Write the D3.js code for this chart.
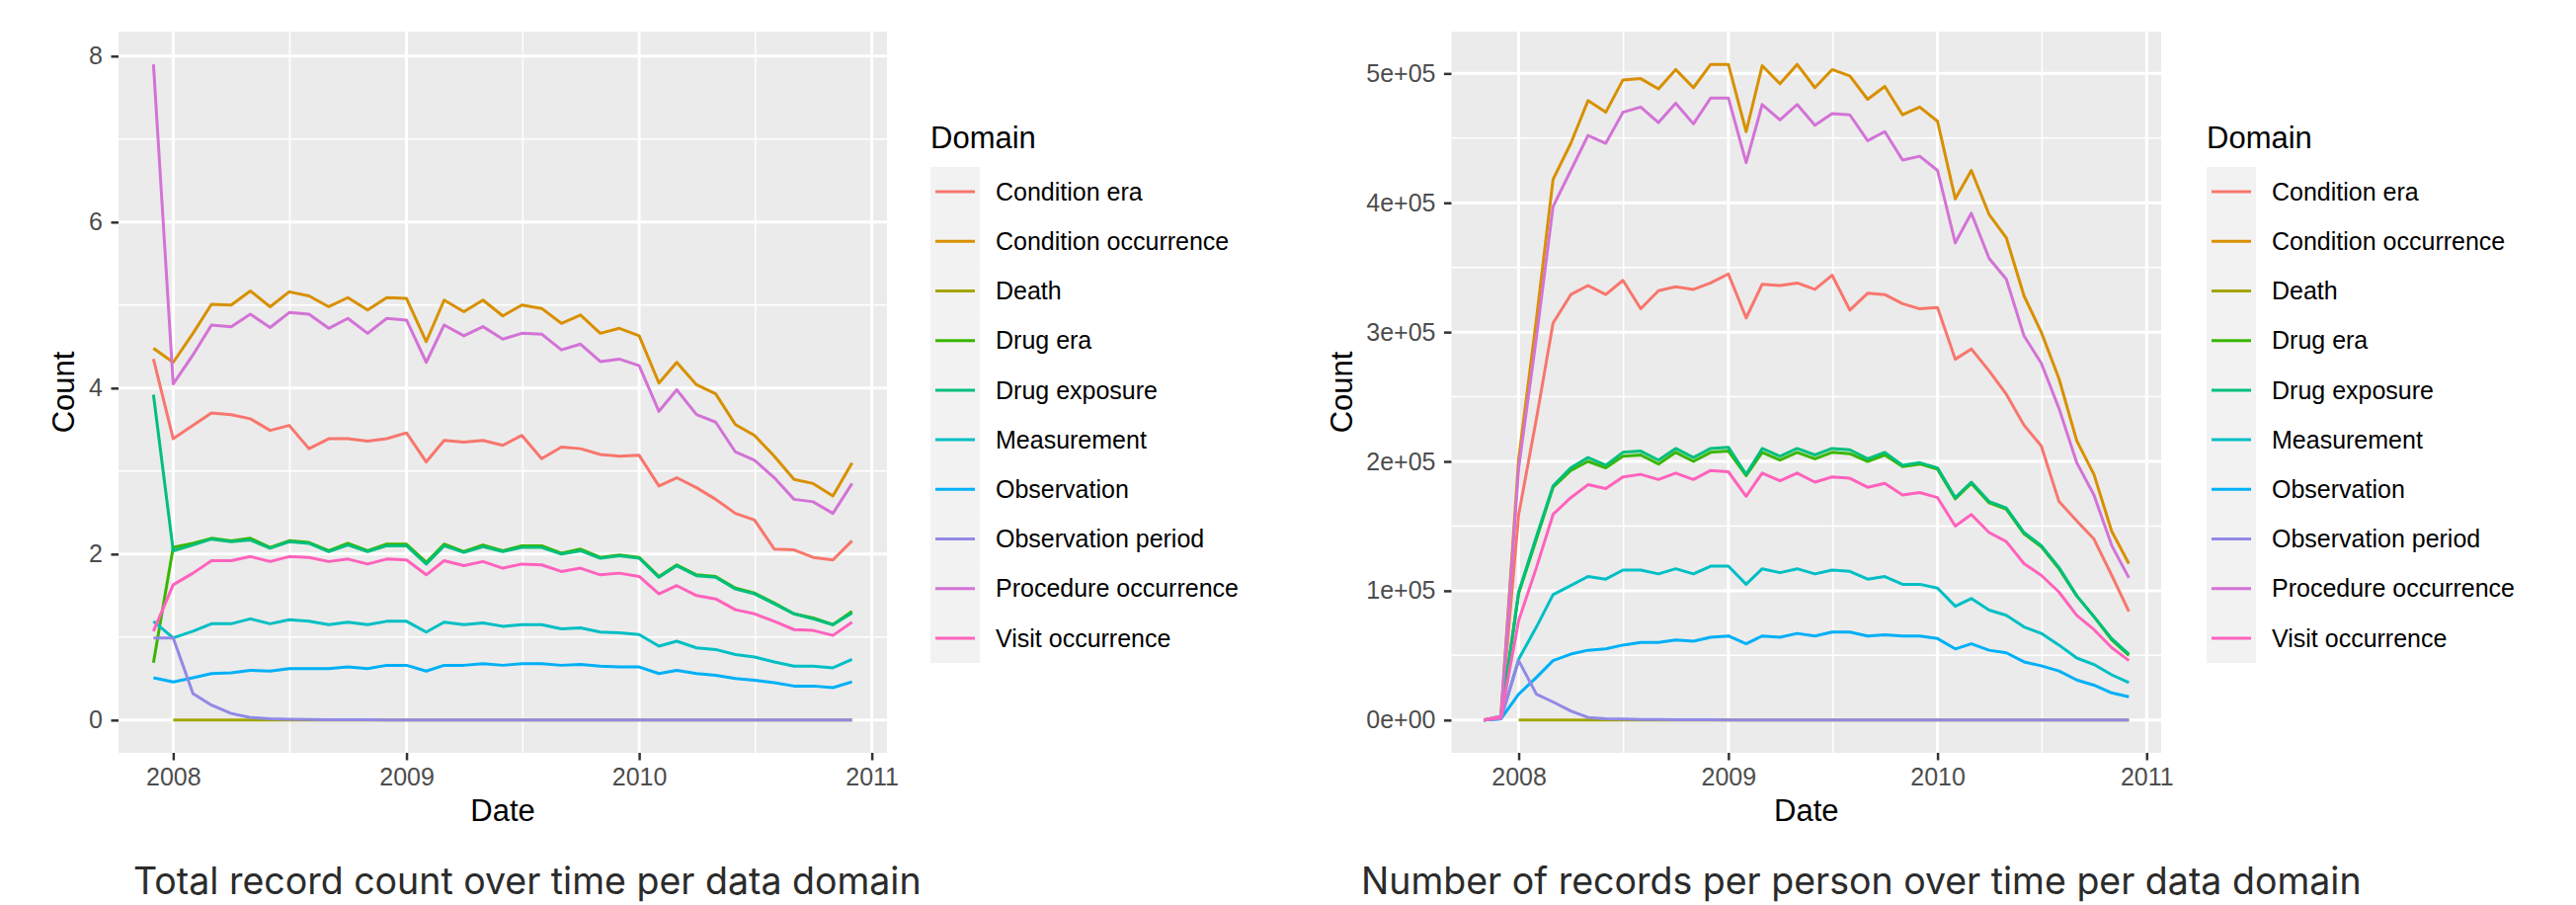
<!DOCTYPE html>
<html>
<head>
<meta charset="utf-8">
<script src="https://cdn.jsdelivr.net/npm/d3@7"></script>
<style>
  body { margin: 0; background: #fff; }
  svg { display: block; }
</style>
</head>
<body>
<svg id="chart" width="2608" height="916"></svg>
<script>
// domains, in legend order
const domains = [
  'Condition era', 'Condition occurrence', 'Death', 'Drug era', 'Drug exposure',
  'Measurement', 'Observation', 'Observation period', 'Procedure occurrence', 'Visit occurrence'
]
const colours = ['#F8766D', '#D89000', '#A3A500', '#39B600', '#00BF7D',
  '#00BFC4', '#00B0F6', '#9189E6', '#D373D6', '#FF62BC']

// left chart: monthly, Dec 2007 .. Dec 2010
const monthsLeft = d3.timeMonths(new Date(2007, 11, 1), new Date(2011, 0, 1))
const leftConditionEra = [4.35, 3.39, 3.55, 3.70, 3.68, 3.63, 3.49, 3.55, 3.27, 3.39, 3.39, 3.36, 3.39, 3.46, 3.11, 3.37, 3.35, 3.37, 3.31, 3.43, 3.15, 3.29, 3.27, 3.20, 3.18, 3.19, 2.82, 2.92, 2.80, 2.66, 2.49, 2.41, 2.06, 2.05, 1.96, 1.93, 2.16]
const leftConditionOcc = [4.48, 4.31, 4.66, 5.01, 5.00, 5.17, 4.98, 5.16, 5.11, 4.98, 5.09, 4.94, 5.09, 5.08, 4.56, 5.06, 4.92, 5.06, 4.87, 5.00, 4.96, 4.78, 4.88, 4.66, 4.72, 4.63, 4.06, 4.31, 4.04, 3.93, 3.56, 3.43, 3.18, 2.90, 2.85, 2.70, 3.10]
const leftDeath = [null, 0, 0, 0, 0, 0, 0, 0, 0, 0, 0, 0, 0, 0, 0, 0, 0, 0, 0, 0, 0, 0, 0, 0, 0, 0, 0, 0, 0, 0, 0, 0, 0, 0, 0, 0, 0]
const leftDrugEra = [0.69, 2.08, 2.13, 2.19, 2.16, 2.19, 2.08, 2.16, 2.14, 2.04, 2.13, 2.04, 2.12, 2.12, 1.90, 2.12, 2.03, 2.11, 2.04, 2.10, 2.10, 2.01, 2.06, 1.96, 1.99, 1.96, 1.73, 1.87, 1.75, 1.73, 1.59, 1.53, 1.41, 1.28, 1.23, 1.15, 1.31]
const leftDrugExposure = [3.92, 2.04, 2.11, 2.18, 2.15, 2.17, 2.07, 2.15, 2.13, 2.03, 2.11, 2.03, 2.10, 2.10, 1.88, 2.10, 2.02, 2.09, 2.03, 2.08, 2.08, 2.00, 2.04, 1.95, 1.98, 1.95, 1.72, 1.86, 1.74, 1.72, 1.58, 1.52, 1.40, 1.28, 1.22, 1.15, 1.29]
const leftMeasurement = [1.19, 0.99, 1.07, 1.16, 1.16, 1.22, 1.16, 1.21, 1.19, 1.15, 1.18, 1.15, 1.19, 1.19, 1.06, 1.18, 1.15, 1.17, 1.13, 1.15, 1.15, 1.10, 1.11, 1.06, 1.05, 1.03, 0.89, 0.95, 0.87, 0.85, 0.79, 0.76, 0.70, 0.65, 0.65, 0.63, 0.73]
const leftObservation = [0.51, 0.46, 0.51, 0.56, 0.57, 0.60, 0.59, 0.62, 0.62, 0.62, 0.64, 0.62, 0.66, 0.66, 0.59, 0.66, 0.66, 0.68, 0.66, 0.68, 0.68, 0.66, 0.67, 0.65, 0.64, 0.64, 0.56, 0.60, 0.56, 0.54, 0.50, 0.48, 0.45, 0.41, 0.41, 0.39, 0.46]
const leftObsPeriod = [0.99, 0.99, 0.32, 0.18, 0.08, 0.03, 0.015, 0.01, 0.008, 0.005, 0.004, 0.003, 0.002, 0.002, 0.001, 0.001, 0, 0, 0, 0, 0, 0, 0, 0, 0, 0, 0, 0, 0, 0, 0, 0, 0, 0, 0, 0, 0]
const leftProcedureOcc = [7.90, 4.05, 4.40, 4.76, 4.74, 4.89, 4.73, 4.91, 4.89, 4.72, 4.84, 4.66, 4.84, 4.82, 4.31, 4.76, 4.63, 4.74, 4.59, 4.66, 4.65, 4.46, 4.53, 4.32, 4.35, 4.27, 3.72, 3.98, 3.68, 3.59, 3.23, 3.13, 2.92, 2.66, 2.63, 2.49, 2.85]
const leftVisitOcc = [1.07, 1.63, 1.77, 1.92, 1.92, 1.97, 1.91, 1.97, 1.96, 1.91, 1.94, 1.88, 1.94, 1.93, 1.75, 1.92, 1.86, 1.91, 1.83, 1.88, 1.87, 1.79, 1.83, 1.75, 1.77, 1.73, 1.52, 1.62, 1.50, 1.46, 1.33, 1.28, 1.19, 1.09, 1.08, 1.02, 1.18]

// right chart: monthly, Nov 2007 .. Dec 2010
const monthsRight = d3.timeMonths(new Date(2007, 10, 1), new Date(2011, 0, 1))
const rightConditionEra = [0, 2000, 159000, 233000, 307000, 329000, 336000, 329000, 340000, 318000, 332000, 335000, 333000, 338000, 345000, 311000, 337000, 336000, 338000, 333000, 344000, 317000, 330000, 329000, 322000, 318000, 319000, 279000, 287000, 270000, 252000, 228000, 212000, 169000, 154000, 140000, 112000, 84000]
const rightConditionOcc = [0, 3000, 202000, 310000, 418000, 446000, 479000, 470000, 495000, 496000, 488000, 503000, 489000, 507000, 507000, 455000, 506000, 492000, 507000, 489000, 503000, 498000, 480000, 490000, 468000, 474000, 463000, 403000, 425000, 391000, 373000, 328000, 300000, 264000, 216000, 190000, 146000, 121000]
const rightDeath = [null, null, 0, 0, 0, 0, 0, 0, 0, 0, 0, 0, 0, 0, 0, 0, 0, 0, 0, 0, 0, 0, 0, 0, 0, 0, 0, 0, 0, 0, 0, 0, 0, 0, 0, 0, 0, 0]
const rightDrugEra = [0, 2000, 98000, 140000, 180000, 193000, 200000, 195000, 204000, 205000, 198000, 207000, 200000, 207000, 208000, 189000, 207000, 201000, 207000, 202000, 207000, 206000, 200000, 205000, 196000, 198000, 194000, 171000, 183000, 168000, 163000, 144000, 134000, 117000, 96000, 80000, 62000, 50000]
const rightDrugExposure = [0, 2000, 99000, 142000, 181000, 195000, 203000, 197000, 207000, 208000, 201000, 210000, 203000, 210000, 211000, 190000, 210000, 204000, 210000, 205000, 210000, 209000, 202000, 207000, 197000, 199000, 195000, 172000, 184000, 169000, 164000, 145000, 135000, 118000, 96000, 80000, 63000, 51000]
const rightMeasurement = [0, 1000, 47000, 72000, 97000, 104000, 111000, 109000, 116000, 116000, 113000, 117000, 113000, 119000, 119000, 105000, 117000, 114000, 117000, 113000, 116000, 115000, 109000, 111000, 105000, 105000, 102000, 88000, 94000, 85000, 81000, 72000, 67000, 58000, 48000, 43000, 35000, 29000]
const rightObservation = [0, 1000, 20000, 33000, 46000, 51000, 54000, 55000, 58000, 60000, 60000, 62000, 61000, 64000, 65000, 59000, 65000, 64000, 67000, 65000, 68000, 68000, 65000, 66000, 65000, 65000, 63000, 55000, 59000, 54000, 52000, 45000, 42000, 38000, 31000, 27000, 21000, 18000]
const rightObsPeriod = [0, 1000, 46000, 20000, 14000, 7000, 2000, 1000, 800, 500, 400, 300, 200, 150, 100, 100, 0, 0, 0, 0, 0, 0, 0, 0, 0, 0, 0, 0, 0, 0, 0, 0, 0, 0, 0, 0, 0, 0]
const rightProcedureOcc = [0, 3000, 195000, 296000, 397000, 425000, 452000, 446000, 470000, 474000, 462000, 477000, 461000, 481000, 481000, 431000, 476000, 464000, 476000, 460000, 469000, 468000, 448000, 455000, 433000, 436000, 425000, 369000, 392000, 357000, 341000, 297000, 276000, 241000, 199000, 174000, 135000, 110000]
const rightVisitOcc = [0, 2000, 77000, 118000, 159000, 172000, 182000, 179000, 188000, 190000, 186000, 191000, 186000, 193000, 192000, 173000, 191000, 185000, 191000, 184000, 188000, 187000, 180000, 183000, 174000, 176000, 172000, 150000, 159000, 145000, 138000, 121000, 112000, 99000, 81000, 70000, 56000, 46000]

const leftSeries = [leftConditionEra, leftConditionOcc, leftDeath, leftDrugEra, leftDrugExposure,
  leftMeasurement, leftObservation, leftObsPeriod, leftProcedureOcc, leftVisitOcc]
const rightSeries = [rightConditionEra, rightConditionOcc, rightDeath, rightDrugEra, rightDrugExposure,
  rightMeasurement, rightObservation, rightObsPeriod, rightProcedureOcc, rightVisitOcc]

const yearTicks = [2008, 2009, 2010, 2011].map(y => new Date(y, 0, 1))

const sci = v => {
  if (v === 0) return '0e+00'
  const e = Math.floor(Math.log10(v))
  return Math.round(v / Math.pow(10, e)) + 'e+' + String(e).padStart(2, '0')
}

const svg = d3.select('#chart')
const font = 'Liberation Sans, Arial, Helvetica, sans-serif'

// ggplot-like expansion: 5% of the range on each side
const expand = ext => {
  const pad = (ext[1] - ext[0]) * 0.05
  return [+ext[0] - pad, +ext[1] + pad]
}

function drawChart ({ left, right, top, bottom, months, series, yMajor, yMinor, yFormat, countX, legendX, caption, captionX }) {
  const g = svg.append('g').attr('font-family', font)

  const x = d3.scaleTime()
    .domain(expand(d3.extent(months)))
    .range([left, right])
  const allValues = series.flat().filter(v => v != null)
  const y = d3.scaleLinear()
    .domain(expand(d3.extent(allValues)))
    .range([bottom, top])

  g.append('rect')
    .attr('x', left).attr('y', top)
    .attr('width', right - left).attr('height', bottom - top)
    .attr('fill', '#EBEBEB')

  const xMinor = d3.pairs(yearTicks).map(([a, b]) => new Date((+a + +b) / 2))
    .filter(d => x(d) > left && x(d) < right)

  // minor grid
  g.append('g').selectAll('line').data(yMinor).enter().append('line')
    .attr('x1', left).attr('x2', right)
    .attr('y1', d => y(d)).attr('y2', d => y(d))
    .attr('stroke', '#fff').attr('stroke-width', 1.5)
  g.append('g').selectAll('line').data(xMinor).enter().append('line')
    .attr('y1', top).attr('y2', bottom)
    .attr('x1', d => x(d)).attr('x2', d => x(d))
    .attr('stroke', '#fff').attr('stroke-width', 1.5)

  // major grid
  g.append('g').selectAll('line').data(yMajor).enter().append('line')
    .attr('x1', left).attr('x2', right)
    .attr('y1', d => y(d)).attr('y2', d => y(d))
    .attr('stroke', '#fff').attr('stroke-width', 3)
  g.append('g').selectAll('line').data(yearTicks).enter().append('line')
    .attr('y1', top).attr('y2', bottom)
    .attr('x1', d => x(d)).attr('x2', d => x(d))
    .attr('stroke', '#fff').attr('stroke-width', 3)

  // series lines
  const line = d3.line()
    .defined(d => d.value != null)
    .x(d => x(d.date))
    .y(d => y(d.value))

  g.append('g').selectAll('path')
    .data(series.map((values, i) => ({
      colour: colours[i],
      points: values.map((value, j) => ({ date: months[j], value }))
    })))
    .enter().append('path')
    .attr('d', d => line(d.points))
    .attr('fill', 'none')
    .attr('stroke', d => d.colour)
    .attr('stroke-width', 3)
    .attr('stroke-linejoin', 'round')
    .attr('stroke-linecap', 'butt')

  // axes
  const yAxis = g.append('g')
    .attr('transform', 'translate(' + left + ',0)')
    .call(d3.axisLeft(y).tickValues(yMajor).tickFormat(yFormat).tickSize(7.5).tickPadding(8.5))
  const xAxis = g.append('g')
    .attr('transform', 'translate(0,' + bottom + ')')
    .call(d3.axisBottom(x).tickValues(yearTicks).tickFormat(d3.timeFormat('%Y')).tickSize(7.5).tickPadding(8))
  for (const axis of [xAxis, yAxis]) {
    axis.select('.domain').remove()
    axis.selectAll('.tick line').attr('stroke', '#333').attr('stroke-width', 2.5)
    axis.selectAll('.tick text')
      .attr('fill', '#4D4D4D')
      .attr('font-size', 25)
      .attr('font-family', font)
  }

  g.append('text')
    .text('Date')
    .attr('x', (left + right) / 2)
    .attr('y', 831)
    .attr('text-anchor', 'middle')
    .attr('font-size', 31)
    .attr('fill', '#000')
  g.append('text')
    .text('Count')
    .attr('transform', 'translate(' + countX + ',' + (top + bottom) / 2 + ') rotate(-90)')
    .attr('dy', '0.35em')
    .attr('text-anchor', 'middle')
    .attr('font-size', 31)
    .attr('fill', '#000')

  // legend
  const legend = g.append('g').attr('transform', 'translate(' + legendX + ',0)')
  legend.append('text')
    .text('Domain')
    .attr('x', 0).attr('y', 150)
    .attr('font-size', 31)
    .attr('fill', '#000')
  const keyH = 50.2
  const item = legend.selectAll('g.key')
    .data(domains)
    .enter().append('g')
    .attr('class', 'key')
    .attr('transform', (d, i) => 'translate(0,' + (169 + i * keyH) + ')')
  item.append('rect')
    .attr('width', 50).attr('height', keyH)
    .attr('fill', '#F2F2F2')
  item.append('line')
    .attr('x1', 5).attr('x2', 45)
    .attr('y1', keyH / 2).attr('y2', keyH / 2)
    .attr('stroke', (d, i) => colours[i])
    .attr('stroke-width', 3)
  item.append('text')
    .text(d => d)
    .attr('x', 66).attr('y', keyH / 2)
    .attr('dy', '0.35em')
    .attr('font-size', 25)
    .attr('fill', '#000')

  svg.append('text')
    .text(caption)
    .attr('x', captionX).attr('y', 905)
    .attr('font-family', 'Inter, Roboto, sans-serif')
    .attr('font-size', 37.5)
    .attr('fill', '#2b2b2b')
}

drawChart({
  left: 120,
  right: 898,
  top: 32,
  bottom: 762,
  months: monthsLeft,
  series: leftSeries,
  yMajor: [0, 2, 4, 6, 8],
  yMinor: [1, 3, 5, 7],
  yFormat: d3.format('d'),
  countX: 64,
  legendX: 942,
  caption: 'Total record count over time per data domain',
  captionX: 135
})

drawChart({
  left: 1469.5,
  right: 2188,
  top: 32,
  bottom: 762,
  months: monthsRight,
  series: rightSeries,
  yMajor: [0, 100000, 200000, 300000, 400000, 500000],
  yMinor: [50000, 150000, 250000, 350000, 450000],
  yFormat: sci,
  countX: 1358,
  legendX: 2234,
  caption: 'Number of records per person over time per data domain',
  captionX: 1378
})
</script>
</body>
</html>
